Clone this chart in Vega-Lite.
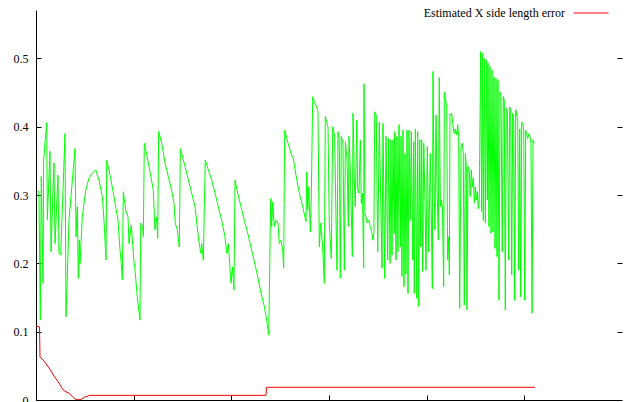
{
"$schema":"https://vega.github.io/schema/vega-lite/v6.json",
"width":586,"height":390,
"autosize":{"type":"none"},
"padding":{"left":36,"top":10,"right":4,"bottom":2},
"config":{"view":{"stroke":null},"font":"Liberation Serif","background":"#ffffff"},
"datasets":{
"red":[[0,0.108],[0.036,0.107],[0.041,0.063],[0.082,0.057],[0.143,0.045],[0.184,0.035],[0.225,0.027],[0.256,0.02],[0.276,0.015],[0.307,0.012],[0.338,0.01],[0.379,0.004],[0.41,0.0005],[0.461,0.0005],[0.491,0.004],[0.553,0.0068],[2.355,0.0068],[2.36,0.0186],[5.109,0.0186]],
"green":[[0.013,0.305],[0.03,0.305],[0.044,0.117],[0.054,0.327],[0.072,0.171],[0.078,0.351],[0.11,0.406],[0.116,0.264],[0.143,0.364],[0.154,0.217],[0.184,0.347],[0.195,0.229],[0.225,0.329],[0.235,0.215],[0.253,0.212],[0.297,0.39],[0.307,0.122],[0.338,0.263],[0.399,0.368],[0.41,0.239],[0.423,0.283],[0.433,0.178],[0.443,0.234],[0.451,0.2],[0.474,0.268],[0.509,0.307],[0.543,0.325],[0.576,0.332],[0.611,0.337],[0.645,0.322],[0.679,0.298],[0.696,0.263],[0.717,0.205],[0.724,0.351],[0.747,0.337],[0.781,0.312],[0.816,0.283],[0.84,0.263],[0.86,0.22],[0.873,0.2],[0.884,0.176],[0.894,0.305],[0.918,0.278],[0.942,0.268],[0.952,0.229],[0.976,0.256],[1.003,0.203],[1.014,0.19],[1.037,0.151],[1.065,0.117],[1.072,0.259],[1.092,0.254],[1.099,0.239],[1.109,0.376],[1.15,0.347],[1.174,0.329],[1.201,0.307],[1.218,0.249],[1.236,0.268],[1.246,0.237],[1.256,0.393],[1.287,0.376],[1.321,0.347],[1.355,0.327],[1.389,0.307],[1.413,0.288],[1.426,0.259],[1.447,0.249],[1.467,0.224],[1.478,0.368],[1.526,0.342],[1.56,0.322],[1.594,0.303],[1.628,0.283],[1.662,0.239],[1.686,0.215],[1.697,0.229],[1.713,0.205],[1.733,0.351],[1.764,0.337],[1.799,0.322],[1.833,0.303],[1.867,0.283],[1.901,0.263],[1.935,0.239],[1.953,0.215],[1.969,0.229],[1.997,0.171],[2.014,0.195],[2.027,0.161],[2.038,0.322],[2.065,0.303],[2.099,0.283],[2.133,0.263],[2.168,0.244],[2.201,0.224],[2.235,0.203],[2.27,0.181],[2.304,0.156],[2.338,0.137],[2.362,0.117],[2.383,0.095],[2.403,0.295],[2.413,0.254],[2.424,0.29],[2.44,0.254],[2.457,0.263],[2.478,0.259],[2.491,0.229],[2.508,0.234],[2.526,0.22],[2.536,0.193],[2.546,0.395],[2.577,0.378],[2.611,0.361],[2.634,0.354],[2.662,0.329],[2.696,0.303],[2.731,0.283],[2.765,0.261],[2.772,0.334],[2.782,0.278],[2.792,0.312],[2.809,0.246],[2.819,0.3],[2.833,0.444],[2.85,0.437],[2.874,0.429],[2.887,0.422],[2.901,0.224],[2.915,0.259],[2.935,0.224],[2.952,0.171],[2.962,0.415],[2.99,0.4],[3.003,0.259],[3.023,0.207],[3.038,0.4],[3.058,0.386],[3.072,0.263],[3.082,0.19],[3.092,0.393],[3.105,0.381],[3.116,0.178],[3.126,0.386],[3.143,0.376],[3.157,0.19],[3.168,0.378],[3.185,0.351],[3.198,0.254],[3.205,0.386],[3.218,0.337],[3.239,0.21],[3.246,0.42],[3.259,0.327],[3.269,0.283],[3.284,0.41],[3.294,0.307],[3.307,0.303],[3.321,0.381],[3.331,0.288],[3.343,0.303],[3.355,0.193],[3.358,0.463],[3.369,0.273],[3.379,0.268],[3.392,0.259],[3.406,0.263],[3.423,0.254],[3.44,0.244],[3.45,0.234],[3.46,0.244],[3.468,0.422],[3.484,0.417],[3.499,0.217],[3.515,0.407],[3.543,0.193],[3.553,0.405],[3.571,0.178],[3.584,0.386],[3.601,0.205],[3.611,0.383],[3.625,0.2],[3.635,0.381],[3.645,0.212],[3.655,0.381],[3.669,0.244],[3.673,0.393],[3.686,0.205],[3.696,0.386],[3.706,0.217],[3.717,0.403],[3.73,0.224],[3.737,0.386],[3.747,0.181],[3.758,0.395],[3.768,0.166],[3.778,0.361],[3.788,0.185],[3.799,0.395],[3.809,0.156],[3.819,0.395],[3.832,0.263],[3.843,0.393],[3.857,0.205],[3.867,0.378],[3.873,0.156],[3.884,0.397],[3.898,0.149],[3.908,0.393],[3.918,0.137],[3.929,0.381],[3.939,0.224],[3.949,0.381],[3.959,0.188],[3.97,0.376],[3.983,0.288],[3.993,0.19],[4.007,0.371],[4.021,0.217],[4.037,0.361],[4.047,0.274],[4.058,0.163],[4.065,0.481],[4.075,0.322],[4.085,0.249],[4.096,0.417],[4.106,0.312],[4.119,0.234],[4.129,0.472],[4.14,0.283],[4.15,0.293],[4.162,0.281],[4.174,0.166],[4.181,0.451],[4.195,0.439],[4.205,0.429],[4.215,0.205],[4.226,0.239],[4.232,0.183],[4.239,0.417],[4.256,0.42],[4.273,0.397],[4.283,0.39],[4.293,0.397],[4.307,0.388],[4.318,0.403],[4.328,0.386],[4.338,0.134],[4.352,0.371],[4.365,0.376],[4.375,0.361],[4.385,0.139],[4.396,0.361],[4.406,0.342],[4.413,0.132],[4.423,0.342],[4.437,0.334],[4.447,0.298],[4.457,0.337],[4.467,0.312],[4.478,0.325],[4.488,0.288],[4.498,0.312],[4.508,0.293],[4.519,0.305],[4.529,0.28],[4.539,0.298],[4.553,0.51],[4.563,0.276],[4.57,0.508],[4.58,0.263],[4.59,0.5],[4.601,0.259],[4.611,0.498],[4.621,0.293],[4.628,0.493],[4.638,0.254],[4.648,0.488],[4.659,0.244],[4.669,0.483],[4.679,0.246],[4.689,0.473],[4.7,0.222],[4.71,0.471],[4.72,0.21],[4.73,0.468],[4.741,0.146],[4.751,0.451],[4.761,0.444],[4.774,0.217],[4.785,0.444],[4.795,0.439],[4.805,0.132],[4.815,0.427],[4.826,0.425],[4.84,0.205],[4.85,0.429],[4.86,0.425],[4.871,0.183],[4.881,0.42],[4.891,0.412],[4.901,0.146],[4.912,0.425],[4.922,0.417],[4.932,0.41],[4.942,0.19],[4.953,0.397],[4.963,0.151],[4.973,0.407],[4.983,0.405],[4.994,0.395],[5.004,0.146],[5.014,0.395],[5.024,0.39],[5.034,0.383],[5.048,0.39],[5.058,0.386],[5.068,0.376],[5.079,0.127],[5.089,0.381],[5.102,0.376]]
},
"layer":[
{
"data":{"name":"green"},
"transform":[{"calculate":"datum[0]","as":"x"},{"calculate":"datum[1]","as":"error"},{"calculate":"'Series 2'","as":"series"}],
"mark":{"type":"line","strokeWidth":1,"clip":true},
"encoding":{
"x":{"field":"x","type":"quantitative","scale":{"domain":[0,6],"nice":false,"zero":false},
 "axis":{"orient":"bottom","values":[1,2,3,4,5],"labels":false,"tickSize":-5,"tickColor":"#000000","domainColor":"#000000","grid":false,"title":null}},
"y":{"field":"error","type":"quantitative","scale":{"domain":[0,0.571],"nice":false,"zero":false},
 "axis":{"orient":"left","values":[0,0.1,0.2,0.3,0.4,0.5],"format":".1~f","tickSize":-5,"labelPadding":13,"labelFont":"Liberation Serif","labelFontSize":12,"labelColor":"#000000","tickColor":"#000000","domainColor":"#000000","grid":false,"title":null}},
"color":{"field":"series","type":"nominal","scale":{"domain":["Estimated X side length error","Series 2"],"range":["#ff0000","#00ff00"]},
 "legend":{"orient":"none","legendX":537,"legendY":-15,"title":null,"values":["Estimated X side length error"],"symbolType":"stroke","symbolSize":1225,"symbolStrokeWidth":1,"labelAlign":"right","labelOffset":-44,"labelFont":"Liberation Serif","labelFontSize":12,"labelColor":"#000000"}}
}
},
{
"data":{"name":"red"},
"transform":[{"calculate":"datum[0]","as":"x"},{"calculate":"datum[1]","as":"error"},{"calculate":"'Estimated X side length error'","as":"series"}],
"mark":{"type":"line","strokeWidth":1,"clip":true},
"encoding":{
"x":{"field":"x","type":"quantitative",
 "axis":{"orient":"bottom","values":[1,2,3,4,5],"labels":false,"tickSize":-5,"tickColor":"#000000","domainColor":"#000000","grid":false,"title":null}},
"y":{"field":"error","type":"quantitative",
 "axis":{"orient":"right","values":[0.1,0.2,0.3,0.4,0.5],"labels":false,"domain":false,"tickSize":-5,"tickColor":"#000000","grid":false,"title":null}},
"color":{"field":"series","type":"nominal"}
}
}
],
"resolve":{"axis":{"y":"independent"}}
}
